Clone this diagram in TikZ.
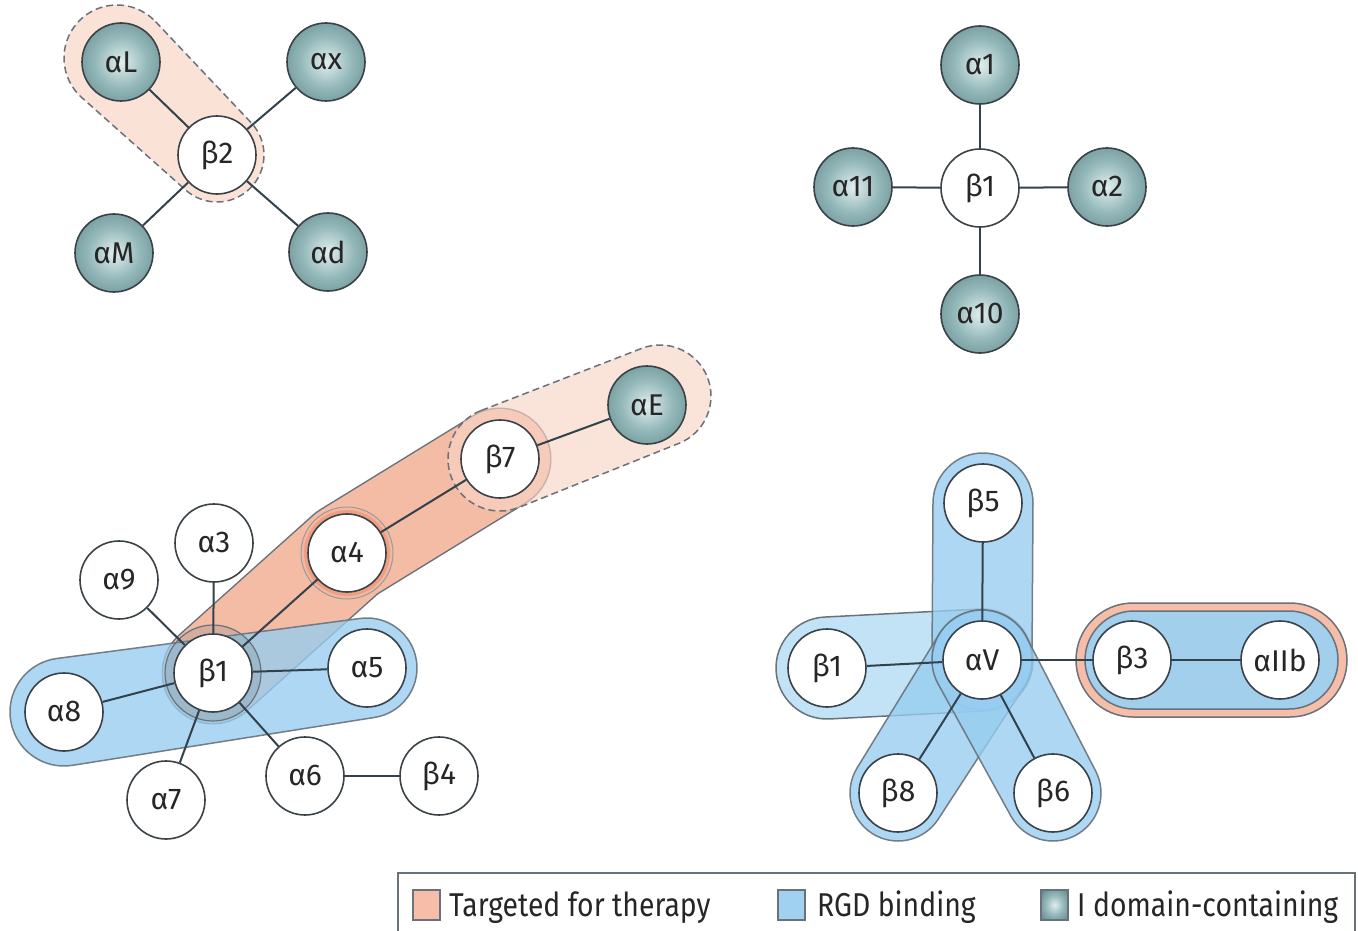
\documentclass[tikz,border=0pt]{standalone}
\usepackage{fontspec}
\setmainfont{Fira Sans}
\newfontfamily\legfont[FakeStretch=0.86]{Fira Sans}
\usetikzlibrary{calc}
\definecolor{edgec}{RGB}{50,66,76}
\definecolor{nodeline}{RGB}{58,66,72}
\definecolor{labelc}{RGB}{38,38,38}
\definecolor{tealin}{RGB}{226,238,238}
\definecolor{tealmid}{RGB}{150,186,187}
\definecolor{tealout}{RGB}{74,116,120}
\definecolor{peach}{RGB}{250,226,215}
\definecolor{peachT}{RGB}{248,212,196}
\definecolor{salmon}{RGB}{244,188,165}
\definecolor{salmondk}{RGB}{238,158,130}
\definecolor{pillline}{RGB}{105,114,122}
\definecolor{bluefill}{RGB}{150,205,240}
\definecolor{bluelight}{RGB}{188,224,246}
\definecolor{blueinner}{RGB}{162,208,236}
\definecolor{halogray}{RGB}{120,132,145}
\definecolor{legpeach}{RGB}{246,190,168}
\definecolor{legblue}{RGB}{160,210,240}
\pgfdeclareradialshading{tealball}{\pgfpoint{0bp}{0bp}}{color(0bp)=(tealin); color(16bp)=(tealmid); color(42bp)=(tealout); color(50bp)=(tealout)}
% tapered pill: #1 A, #2 B, #3 RA, #4 RB, #5 style
\newcommand{\pill}[5]{%
  \path[#5] let \p1=($(#2)-(#1)$), \n1={atan2(\y1,\x1)}, \n2={veclen(\x1,\y1)}, \n3={acos((#3-#4)/\n2)} in
  ($(#1)+(\n1+\n3:#3pt)$) -- ($(#2)+(\n1+\n3:#4pt)$)
  arc[start angle=\n1+\n3, end angle=\n1-\n3, radius=#4pt]
  -- ($(#1)+(\n1-\n3:#3pt)$)
  arc[start angle=\n1-\n3, end angle=\n1+\n3-360, radius=#3pt] -- cycle;}
\tikzset{
  nd/.style={circle, minimum size=78pt, inner sep=0pt, draw=nodeline, line width=1.6pt,
    font=\fontsize{30}{31}\selectfont, text=labelc},
  wn/.style={nd, fill=white},
  tn/.style={nd, shading=tealball},
  con/.style={draw=edgec, line width=2pt},
  dashpill/.style={fill=peach, draw=pillline, line width=1.5pt, dash pattern=on 7pt off 4pt},
  bluepill/.style={fill=bluefill, fill opacity=0.78, draw=pillline, draw opacity=0.9, line width=1.5pt},
  legtext/.style={anchor=base west, inner sep=0pt, font=\legfont\fontsize{33}{34}\selectfont, text=labelc},
  legsq/.style={draw=pillline, line width=1.2pt}
}
\begin{document}
\begin{tikzpicture}[x=1pt,y=-1pt]
\useasboundingbox (0,0) rectangle (1358,931);
\fill[white] (0,0) rectangle (1358,931);

% ---------- pills / highlight areas ----------
% top-left targeted pill
\pill{117,58}{217,155}{53}{47}{dashpill}

% bottom-left salmon bent pill (beta1 - alpha4 - beta7)
\draw[pillline, line width=103pt, line cap=round, line join=round] (213,673) -- (347,553) -- (500,459);
\draw[salmon, line width=100pt, line cap=round, line join=round] (213,673) -- (347,553) -- (500,459);
% light targeted pill beta7 - alphaE
\pill{500,459}{660,396}{52}{51}{fill=peachT, fill opacity=0.65, draw=pillline, line width=1.5pt, dash pattern=on 7pt off 4pt}
% ring around alpha4
\draw[fill=salmon!80!salmondk, draw=pillline!70, line width=1pt] (347,553) circle (46pt);
\fill[salmondk] (347,553) circle (43pt);
% blue RGD pill alpha8 - alpha5
\pill{64,712}{367,668}{54}{50}{bluepill}
% halo around beta1
\draw[fill=halogray, fill opacity=0.25, draw=pillline, line width=1.2pt] (213,673) circle (48pt);

% bottom-right RGD pills
\pill{827,668}{982,660}{51}{51}{fill=bluelight, fill opacity=0.9, draw=pillline, line width=1.5pt}
\pill{983,503}{982,660}{50}{50}{bluepill}
\pill{898,793}{982,660}{48}{50}{bluepill}
\pill{1053,793}{982,660}{48}{50}{bluepill}
% beta3 - alphaIIb
\pill{1133,660}{1290,660}{57}{57}{fill=legpeach, draw=pillline, line width=1.5pt}
\pill{1134,660}{1289,660}{49}{49}{fill=blueinner, draw=pillline, line width=1.5pt}

% ---------- nodes ----------
% top-left cluster
\node[tn] (aL) at (121,62) {αL};
\node[tn] (ax) at (326,62) {αx};
\node[wn] (b2) at (217,155) {β2};
\node[tn] (aM) at (114,253) {αM};
\node[tn] (ad) at (328,252) {αd};
% top-right cluster
\node[tn] (a1) at (980,65) {α1};
\node[wn] (b1t) at (980,188) {β1};
\node[tn] (a11) at (853,187) {α11};
\node[tn] (a2) at (1107,187) {α2};
\node[tn] (a10) at (980,314) {α10};
% bottom-left cluster
\node[tn] (aE) at (647,405) {αE};
\node[wn] (b7) at (500,459) {β7};
\node[wn] (a4) at (347,553) {α4};
\node[wn] (a3) at (214,543) {α3};
\node[wn] (a9) at (119,580) {α9};
\node[wn] (b1) at (213,673) {β1};
\node[wn] (a5) at (367,668) {α5};
\node[wn] (a8) at (64,712) {α8};
\node[wn] (a7) at (166,800) {α7};
\node[wn] (a6) at (305,776) {α6};
\node[wn] (b4) at (439,776) {β4};
% bottom-right cluster
\node[wn] (b5) at (983,503) {β5};
\node[wn] (aV) at (982,660) {αV};
\node[wn] (b1r) at (827,668) {β1};
\node[wn] (b3) at (1132,660) {β3};
\node[wn] (aIIb) at (1280,660) {αIIb};
\node[wn] (b8) at (898,793) {β8};
\node[wn] (b6) at (1053,793) {β6};

% ---------- connectors ----------
\draw[con] (aL) -- (b2);
\draw[con] (ax) -- (b2);
\draw[con] (aM) -- (b2);
\draw[con] (ad) -- (b2);
\draw[con] (a1) -- (b1t);
\draw[con] (a11) -- (b1t);
\draw[con] (a2) -- (b1t);
\draw[con] (a10) -- (b1t);
\draw[con] (aE) -- (b7);
\draw[con] (b7) -- (a4);
\draw[con] (a4) -- (b1);
\draw[con] (a3) -- (b1);
\draw[con] (a9) -- (b1);
\draw[con] (a5) -- (b1);
\draw[con] (a8) -- (b1);
\draw[con] (a7) -- (b1);
\draw[con] (a6) -- (b1);
\draw[con] (a6) -- (b4);
\draw[con] (b5) -- (aV);
\draw[con] (b1r) -- (aV);
\draw[con] (b8) -- (aV);
\draw[con] (b6) -- (aV);
\draw[con] (aV) -- (b3);
\draw[con] (b3) -- (aIIb);

% ---------- legend ----------
\draw[line width=1.4pt, draw=pillline] (398,873) rectangle (1355,945);
\draw[legsq, fill=legpeach] (413,890) rectangle (440,920);
\node[legtext] (lt1) at (449,916) {Targeted for therapy};
\draw[legsq, fill=legblue] (778,890) rectangle (805,920);
\node[legtext] (lt2) at (817,916) {RGD binding};
\shade[shading=tealball] (1041,890) rectangle (1068,920);
\draw[legsq] (1041,890) rectangle (1068,920);
\node[legtext] (lt3) at (1077,916) {I domain-containing};
\end{tikzpicture}
\end{document}
